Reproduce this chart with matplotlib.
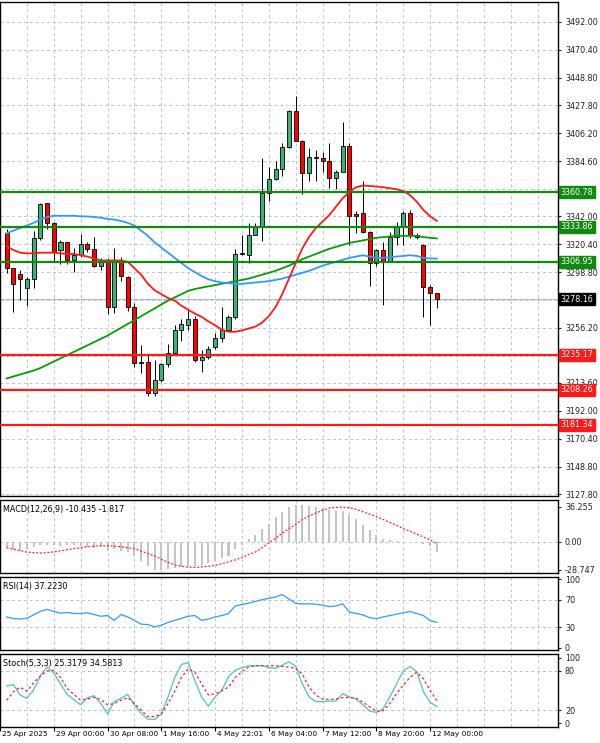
import matplotlib.pyplot as plt
import numpy as np

# candles (open, high, low, close)
opens = [3329, 3302, 3297.5, 3286.7, 3294, 3325, 3352, 3337, 3316, 3322, 3308.4, 3312, 3320.4, 3316.5, 3304,
         3308, 3272, 3308, 3295, 3272, 3230, 3230, 3206, 3216, 3228, 3236.4, 3254.3, 3258, 3262.6, 3231,
         3233.7, 3241, 3248, 3254, 3264, 3313, 3312, 3328, 3334, 3360, 3370.6, 3378.6, 3395.3, 3423.3, 3400.4,
         3375.3, 3388, 3387, 3385, 3372, 3376.6, 3396.3, 3344, 3345, 3330, 3306.3, 3316, 3307, 3326.3, 3333.6,
         3345, 3328, 3320, 3287.3, 3282.6]
closes = [3302, 3290, 3294, 3294, 3325, 3351.6, 3337, 3314.8, 3322, 3308, 3312, 3320.4, 3316.5, 3304, 3308,
          3271.8, 3308, 3296, 3272, 3228.7, 3228.5, 3205.7, 3215.8, 3228, 3236.4, 3254.3, 3259, 3262.6, 3231, 3233.7,
          3240, 3248, 3254, 3264, 3313, 3313.6, 3328, 3334, 3359.8, 3370.6, 3378.6, 3395.3, 3423.3, 3400.4, 3375.3,
          3388, 3387, 3385, 3372, 3376.6, 3396.3, 3342.3, 3342, 3330, 3306.3, 3316, 3307, 3326.3, 3333.6, 3345,
          3327.4, 3326, 3287.3, 3282.6, 3278.16]
highs = [3332, 3302, 3301, 3295, 3331, 3352.6, 3352.6, 3338, 3324, 3322.5, 3318, 3328.6, 3322, 3326, 3310,
         3310, 3318, 3311, 3296, 3275, 3242.8, 3235, 3231.5, 3228.5, 3243.6, 3258, 3263, 3270, 3265.2, 3239,
         3242, 3252, 3272, 3266, 3317, 3328, 3337, 3337, 3386.8, 3380, 3385, 3398.5, 3424, 3435, 3401,
         3395, 3393, 3392, 3399, 3378, 3415, 3399, 3346.5, 3369.5, 3331, 3316.5, 3322.5, 3330, 3337.7, 3346,
         3347, 3329, 3321, 3289, 3283.1]
lows = [3298, 3268, 3277.5, 3273, 3286.7, 3324, 3332, 3307, 3305, 3305.5, 3299, 3311, 3314.5, 3303, 3300.5,
        3267, 3267.5, 3292, 3269, 3226, 3221, 3203.5, 3203.5, 3214.5, 3226, 3235, 3246, 3254.3, 3230, 3222.2,
        3232, 3240, 3245, 3254, 3262.6, 3312.5, 3306, 3328, 3323, 3353.7, 3369.8, 3373.4, 3394.5, 3400.4, 3359,
        3369.6, 3369.6, 3376.4, 3364, 3363.3, 3376.6, 3320, 3329, 3329.4, 3288.3, 3304, 3274, 3307, 3320, 3320,
        3325, 3324.9, 3264.6, 3258, 3271.6]

ma_fast = [3319, 3316, 3314, 3313.5, 3313.5, 3314, 3314, 3314, 3313.5, 3313, 3313, 3312, 3311, 3309.5, 3308,
           3308, 3308, 3308, 3307, 3302, 3297, 3290, 3285, 3282, 3279, 3277, 3273, 3270, 3267, 3264.5,
           3261, 3258, 3254.5, 3253, 3253, 3254, 3255.5, 3257, 3260, 3265, 3272, 3282, 3294, 3306, 3317.4,
           3326.3, 3333, 3338, 3343, 3349.5, 3356, 3361, 3364.5, 3365.8, 3365.5, 3365, 3364.5, 3363.7, 3363, 3361.6,
           3358.5, 3353.4, 3347, 3342, 3338.5]
ma_mid = [3329, 3331, 3333, 3335, 3337, 3339.5, 3341.5, 3342.5, 3342.5, 3342.5, 3342.5, 3342, 3342, 3341.5, 3341,
          3340, 3339.5, 3338.5, 3337, 3335, 3331, 3327, 3322, 3318, 3314, 3310, 3306, 3302, 3299, 3296,
          3293.5, 3292, 3291, 3290.5, 3290, 3290, 3290.5, 3291, 3291.5, 3292, 3293, 3294, 3295.5, 3297, 3298.5,
          3300, 3302, 3304, 3305.5, 3307, 3308.5, 3310, 3311, 3312, 3311, 3310, 3310, 3310.5, 3311, 3311.5,
          3312, 3311.5, 3310, 3309.5, 3309.5]
ma_slow = [3217, 3218.5, 3220, 3221.5, 3223, 3225, 3227.5, 3230, 3232.5, 3235, 3237.5, 3240, 3242.5, 3245, 3247.5,
           3250, 3253, 3256, 3259, 3262, 3265, 3268, 3271, 3274, 3277, 3279.5, 3282, 3284.5, 3286, 3287,
           3288, 3289, 3290, 3291, 3292, 3293, 3294, 3295.5, 3297, 3298.5, 3300, 3302, 3304, 3306.5, 3309,
           3311, 3313, 3315, 3317, 3318.5, 3320, 3321.5, 3322.5, 3323.5, 3324.5, 3325.5, 3326, 3326.5, 3327, 3327,
           3327, 3327, 3326, 3325.5, 3325]

res_levels = [3360.78, 3333.86, 3306.95]
sup_levels = [3235.17, 3208.26, 3181.34]
last_price = 3278.16
price_ticks = [3492.00, 3470.40, 3448.80, 3427.80, 3406.20, 3384.60, 3363.00, 3342.00, 3320.40, 3298.80,
               3277.20, 3256.20, 3234.60, 3213.60, 3192.00, 3170.40, 3148.80, 3127.80]

macd_hist = [-6.5, -8, -9, -7, -5.4, -3.6, -2.9, -3.6, -4.3, -3.6, -3.6, -4.3, -5.4, -6.5, -5.4,
             -9, -7.2, -9, -10.8, -14.4, -19.8, -25.1, -29.4, -28.7, -28, -26.9, -25.8, -25.1, -25.1, -23.3,
             -21.5, -19.8, -16.2, -14.4, -7.2, -2.9, 2.7, 7.5, 13.6, 18.6, 25.4, 30.5, 35.6, 38, 38,
             37.3, 36.3, 34.6, 33.2, 32.2, 31.2, 27.8, 23.1, 17.6, 11.9, 6.8, 3.4, 2, 0.7, 0.3,
             0, -0.4, -1.8, -4.3, -10.435]
macd_signal = [-6, -7.5, -9, -10.5, -11, -11.5, -11, -10.3, -9.3, -8, -7, -6, -5, -4.3, -4,
               -4.1, -4.3, -5, -6, -7, -9.5, -12, -14.5, -18, -21, -23.5, -25, -26, -26.2, -25.8,
               -25, -24.2, -22.5, -20.5, -18.5, -16, -13, -10.5, -6, -1, 3.5, 9, 13.6, 18, 23,
               26.5, 29.5, 32.5, 34.8, 35.5, 35.6, 35, 33.5, 31, 28.5, 26, 23, 20, 17, 13.6,
               11, 8, 5, 2, -1.817]

rsi = [45, 42.5, 42, 43, 48, 53, 56, 53, 50.5, 51.5, 50, 50, 51, 48.5, 46,
       47, 40, 48.5, 45, 40, 34.5, 34, 30.5, 33, 37, 40, 43, 46, 47, 40,
       42, 45, 47, 50, 61, 63, 65, 67.5, 70, 72, 74, 77.5, 71, 64.5, 64,
       64, 63.5, 62, 60, 61, 64, 52, 50, 48, 44, 42.5, 45, 47, 49, 51,
       53, 50, 47, 39.5, 37.223]

stoch_k = [57, 59, 43, 38, 51, 72, 86, 77, 60, 44, 36, 28, 39, 42, 30,
           14, 33, 38, 44, 28, 15, 6, 5.5, 14, 40, 70, 90, 93, 65, 40,
           26, 40, 50, 71, 81, 85, 88, 88, 88, 85, 84, 89, 94, 87, 60,
           40, 33, 33, 33.5, 34, 45, 40, 37, 28, 18.6, 16.3, 22, 40, 60, 80,
           87, 79, 48, 32, 25.32]
stoch_d = [35, 48, 55, 49, 62, 72, 80, 81, 70, 53, 44, 35, 37, 39.5, 36,
           28, 30, 35, 39, 30, 20, 10, 10, 14, 30, 49, 70, 83, 78, 60,
           43, 45, 50, 55, 70, 79, 86, 88, 88, 88, 88, 87, 86, 84, 75,
           55, 43, 37, 36, 37, 39, 39.5, 38, 32, 25, 18, 19, 30, 45, 58,
           70, 78, 68, 50, 34.58]

time_labels = ['25 Apr 2025', '29 Apr 00:00', '30 Apr 08:00', '1 May 16:00', '4 May 22:01',
               '6 May 04:00', '7 May 12:00', '8 May 20:00', '12 May 00:00']

plt.rcParams['font.family'] = 'DejaVu Sans'
FS = 5.8
grid_c = '#b8c6dc'
W, H = 600, 743
fig = plt.figure(figsize=(W / 100, H / 100), dpi=100)


def box(top, bottom):
    return [0, 1 - bottom / H, 558 / W, (bottom - top) / H]


ax = fig.add_axes(box(2, 496))
ax_m = fig.add_axes(box(500, 573), sharex=ax)
ax_r = fig.add_axes(box(577, 650), sharex=ax)
ax_s = fig.add_axes(box(654, 727), sharex=ax)

x = np.arange(len(opens))
px_per_slot = 6.75
x0 = -4.3 / px_per_slot
ax.set_xlim(x0, x0 + 558 / px_per_slot)

vgrid = np.arange(-1, 80, 4)
for a in (ax, ax_m, ax_r, ax_s):
    a.yaxis.tick_right()
    a.tick_params(axis='y', labelsize=FS, length=2, pad=3, colors='#222222')
    a.tick_params(axis='x', length=0, labelbottom=False)
    for v in vgrid:
        a.axvline(v, color=grid_c, lw=0.7, ls=(0, (3, 3)), zorder=0)
    for s in a.spines.values():
        s.set_linewidth(1.0)

# main chart
ax.set_ylim(3127.8 - 2 * 0.7716, 3492 + 20 * 0.7716)
levels_all = res_levels + sup_levels + [last_price]
ax.set_yticks(price_ticks)
ax.set_yticklabels(['' if min(abs(t - lv) for lv in levels_all) < 4 else '%.2f' % t for t in price_ticks])
for t in price_ticks:
    ax.axhline(t, color=grid_c, lw=0.7, ls=(0, (3, 3)), zorder=0)

ax.axhline(last_price, color='#b0bccc', lw=0.8, zorder=1)
for o, h, l, c, i in zip(opens, highs, lows, closes, x):
    col = '#3cb371' if c >= o else '#ff0000'
    ax.vlines(i, l, h, color='black', lw=0.7, zorder=3)
    ax.bar(i, max(abs(c - o), 0.6), bottom=min(o, c), width=0.6, color=col,
           edgecolor='black', lw=0.6, zorder=4)

ax.plot(x, ma_slow, color='#0a9a0a', lw=1.3, zorder=5)
ax.plot(x, ma_mid, color='#3399ff', lw=1.3, zorder=5)
ax.plot(x, ma_fast, color='#ff1a1a', lw=1.3, zorder=5)

trans = ax.get_yaxis_transform()
for lv in res_levels:
    ax.axhline(lv, color='#108a10', lw=1.6, zorder=6)
    ax.text(1.005, lv, '%.2f' % lv, transform=trans, fontsize=FS, color='white', va='center', ha='left',
            clip_on=False, zorder=10,
            bbox=dict(boxstyle='square,pad=0.18', fc='#108a10', ec='#108a10'))
for lv in sup_levels:
    ax.axhline(lv, color='#ff1a1a', lw=1.6, zorder=6)
    ax.text(1.005, lv, '%.2f' % lv, transform=trans, fontsize=FS, color='white', va='center', ha='left',
            clip_on=False, zorder=10,
            bbox=dict(boxstyle='square,pad=0.18', fc='#ff1a1a', ec='#ff1a1a'))
ax.text(1.005, last_price, '%.2f' % last_price, transform=trans, fontsize=FS, color='white', va='center',
        ha='left', clip_on=False, zorder=10,
        bbox=dict(boxstyle='square,pad=0.18', fc='black', ec='black'))

# MACD
ax_m.bar(x, macd_hist, width=0.3, color='#c4c4c4', zorder=2)
ax_m.plot(x, macd_signal, color='#ff2020', lw=0.9, ls=(0, (1.5, 1.5)), zorder=3)
ax_m.set_ylim(-32, 43)
ax_m.set_yticks([36.255, 0, -28.747])
ax_m.set_yticklabels(['36.255', '0.00', '-28.747'])
ax_m.axhline(0, color=grid_c, lw=0.7, ls=(0, (3, 3)), zorder=0)
ax_m.text(0.005, 0.93, 'MACD(12,26,9) -10.435 -1.817', transform=ax_m.transAxes, fontsize=FS, va='top')

# RSI
ax_r.plot(x, rsi, color='#3399ff', lw=0.9)
ax_r.set_ylim(-3, 103)
ax_r.set_yticks([100, 70, 30, 0])
for t in (70, 30):
    ax_r.axhline(t, color='#c0c0c0', lw=0.7, ls=(0, (3, 3)), zorder=0)
ax_r.text(0.005, 0.93, 'RSI(14) 37.2230', transform=ax_r.transAxes, fontsize=FS, va='top')

# Stochastic
ax_s.plot(x, stoch_k, color='#5cc8c0', lw=1.0)
ax_s.plot(x, stoch_d, color='#ff2020', lw=0.9, ls=(0, (2, 2)))
ax_s.set_ylim(-6, 106)
ax_s.set_yticks([100, 80, 20, 0])
for t in (80, 20):
    ax_s.axhline(t, color='#c0c0c0', lw=0.7, ls=(0, (3, 3)), zorder=0)
ax_s.text(0.005, 0.93, 'Stoch(5,3,3) 25.3179 34.5813', transform=ax_s.transAxes, fontsize=FS, va='top')

xt = np.arange(-1, 64, 8)
ax_s.set_xticks(xt)
ax_s.tick_params(axis='x', length=3, direction='out', labelbottom=False)
for t, lab in zip(xt, time_labels):
    ax_s.text(t + 0.3, -0.05, lab, transform=ax_s.get_xaxis_transform(), fontsize=5.3, va='top', ha='left',
              clip_on=False)

fig.savefig('out.png', dpi=100, facecolor='white')
